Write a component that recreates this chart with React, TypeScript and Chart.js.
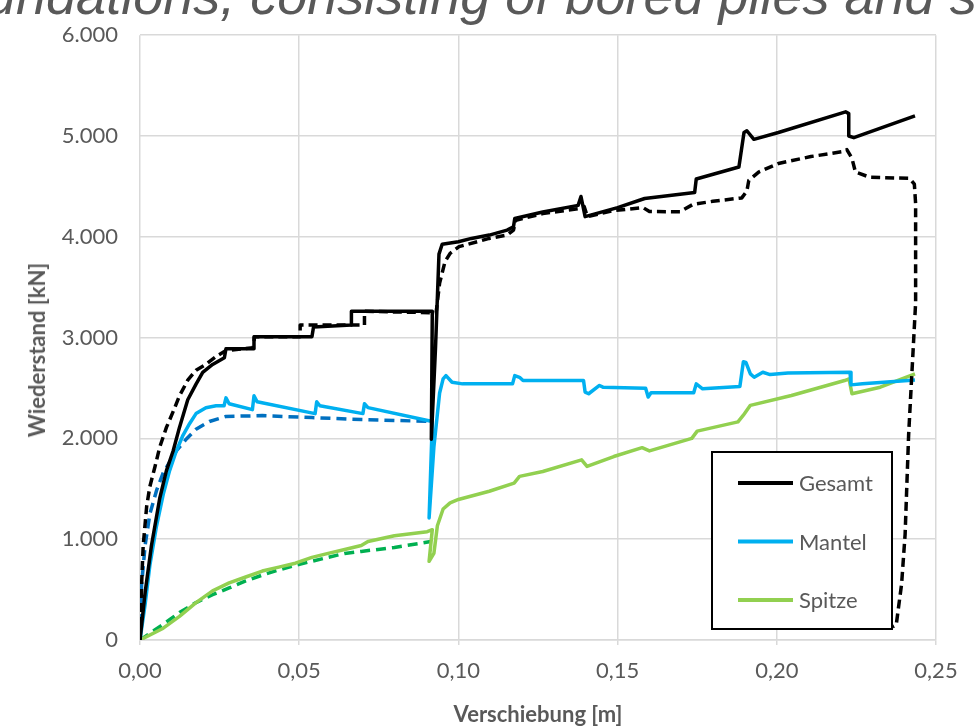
import { useEffect, useRef } from 'react';
import { Chart, registerables } from 'chart.js';

Chart.register(...registerables);

// ---- Axis / legend texts ----
const xTickLabels = ['0,00', '0,05', '0,10', '0,15', '0,20', '0,25'];
const yTickLabels = ['0', '1.000', '2.000', '3.000', '4.000', '5.000', '6.000'];
const legendLabels = ['Gesamt', 'Mantel', 'Spitze'];
const xAxisTitle = 'Verschiebung [m]';
const yAxisTitle = 'Wiederstand [kN]';
const headerText = 'undations, consisting of bored piles and s';

// ---- Series: [Verschiebung m, Widerstand kN] ----
const gesamtMessung: [number, number][] = [
  [0, 0], [0.0016, 469], [0.0036, 937], [0.0062, 1406], [0.0083, 1680], [0.0104, 1875],
  [0.0124, 2109], [0.015, 2383], [0.0176, 2539], [0.0197, 2656], [0.0228, 2734], [0.0265, 2800],
  [0.027, 2890], [0.0355, 2890], [0.0358, 3008], [0.054, 3008], [0.0545, 3105], [0.0664, 3125],
  [0.0664, 3261], [0.0918, 3261], [0.0915, 1992], [0.0928, 2890], [0.0939, 3828], [0.0949, 3926],
  [0.1, 3951], [0.1041, 3984], [0.1097, 4017], [0.1153, 4066], [0.1173, 4099], [0.1177, 4181],
  [0.1265, 4246], [0.1376, 4312], [0.1385, 4400], [0.1398, 4200], [0.15, 4290], [0.1585, 4380],
  [0.1742, 4440], [0.1747, 4574], [0.1881, 4693], [0.1897, 5035], [0.1906, 5052], [0.1928, 4967],
  [0.2005, 5035], [0.2216, 5240], [0.2226, 5222], [0.2226, 5000], [0.2242, 4983], [0.2434, 5200],
];

const gesamtModell: [number, number][] = [
  [0, 0], [0.0005, 547], [0.001, 937], [0.0021, 1328], [0.0031, 1523], [0.0047, 1719],
  [0.0062, 1914], [0.0083, 2109], [0.0104, 2265], [0.0124, 2422], [0.015, 2578], [0.0176, 2676],
  [0.0207, 2734], [0.0239, 2812], [0.027, 2871], [0.0355, 2900], [0.036, 3008], [0.0503, 3008],
  [0.0503, 3125], [0.0705, 3125], [0.0705, 3261], [0.093, 3246], [0.0941, 3541], [0.0958, 3754],
  [0.0974, 3836], [0.1002, 3902], [0.1097, 3984], [0.1153, 4017], [0.1173, 4066], [0.118, 4164],
  [0.1265, 4230], [0.1376, 4279], [0.1395, 4300], [0.1405, 4200], [0.1488, 4260], [0.158, 4290],
  [0.16, 4250], [0.1696, 4249], [0.1737, 4322], [0.1799, 4352], [0.189, 4386], [0.1906, 4454],
  [0.1912, 4559], [0.1943, 4642], [0.2005, 4727], [0.2107, 4796], [0.2211, 4847], [0.222, 4865],
  [0.2236, 4779], [0.2247, 4642], [0.2293, 4590], [0.2417, 4580], [0.2432, 4523], [0.2436, 4328],
  [0.2436, 3345], [0.2425, 2689], [0.2414, 2033], [0.2403, 1049], [0.2392, 557], [0.2375, 148],
  [0.2364, 131],
];

const mantelMessung: [number, number][] = [
  [0, 0], [0.0016, 352], [0.0031, 742], [0.0052, 1133], [0.0073, 1445], [0.0093, 1680],
  [0.0114, 1875], [0.0135, 2031], [0.0156, 2148], [0.0176, 2246], [0.0207, 2305], [0.0239, 2324],
  [0.0264, 2324], [0.027, 2402], [0.028, 2344], [0.0353, 2285], [0.0358, 2422], [0.0368, 2363],
  [0.055, 2246], [0.0555, 2363], [0.0565, 2324], [0.07, 2246], [0.0705, 2344], [0.0716, 2305],
  [0.0918, 2168], [0.0908, 1211], [0.0923, 1914], [0.0941, 2450], [0.0952, 2590], [0.0961, 2623],
  [0.098, 2557], [0.1013, 2541], [0.117, 2541], [0.1177, 2623], [0.1192, 2606], [0.1203, 2574],
  [0.1393, 2574], [0.1398, 2459], [0.1409, 2443], [0.1443, 2525], [0.1454, 2508], [0.1588, 2498],
  [0.1596, 2410], [0.1605, 2453], [0.1739, 2453], [0.1747, 2541], [0.1767, 2492], [0.1884, 2515],
  [0.1895, 2761], [0.1903, 2754], [0.1917, 2640], [0.1929, 2607], [0.1956, 2656], [0.1979, 2633],
  [0.2035, 2649], [0.223, 2656], [0.2233, 2531], [0.2269, 2541], [0.2336, 2557], [0.2434, 2580],
];

const mantelModell: [number, number][] = [
  [0, 0], [0.0005, 547], [0.0016, 937], [0.0031, 1250], [0.0052, 1484], [0.0073, 1660],
  [0.0114, 1875], [0.0145, 1992], [0.0176, 2090], [0.0218, 2168], [0.027, 2218], [0.0384, 2226],
  [0.054, 2207], [0.0695, 2187], [0.0918, 2168],
];

const spitzeMessung: [number, number][] = [
  [0, 0], [0.0073, 117], [0.0124, 234], [0.0176, 371], [0.0228, 488], [0.028, 566],
  [0.0332, 625], [0.0384, 684], [0.0436, 723], [0.0488, 762], [0.054, 820], [0.0591, 859],
  [0.0643, 898], [0.0695, 937], [0.0716, 977], [0.0799, 1035], [0.0902, 1074], [0.0918, 1094],
  [0.0908, 781], [0.0923, 859], [0.0934, 1133], [0.0952, 1300], [0.0974, 1361], [0.1, 1394],
  [0.1097, 1476], [0.1175, 1557], [0.1192, 1623], [0.1265, 1672], [0.1387, 1787], [0.1404, 1722],
  [0.1488, 1820], [0.1577, 1908], [0.16, 1876], [0.1733, 2000], [0.175, 2072], [0.1878, 2164],
  [0.1895, 2230], [0.1917, 2328], [0.2046, 2426], [0.2213, 2574], [0.2227, 2590], [0.2236, 2443],
  [0.2325, 2508], [0.2434, 2640],
];

const spitzeModell: [number, number][] = [
  [0, 0], [0.0073, 156], [0.0124, 273], [0.0176, 371], [0.0228, 449], [0.028, 516],
  [0.0332, 586], [0.0384, 644], [0.0436, 695], [0.0488, 742], [0.054, 781], [0.0591, 820],
  [0.0643, 859], [0.0695, 879], [0.0799, 918], [0.0913, 977],
];

const toPoints = (arr: [number, number][]) => arr.map(([x, y]) => ({ x, y }));

const GRAY_TEXT = '#595959';
const GRID = '#d9d9d9';
const FONT = 'Lato, "Open Sans", sans-serif';

const boxLegend = {
  id: 'boxLegend',
  afterDatasetsDraw(chart: any) {
    const { ctx, chartArea } = chart;
    const w = 180;
    const h = 177;
    const left = chartArea.right - 44 - w;
    const top = chartArea.bottom - 11 - h;
    ctx.save();
    ctx.fillStyle = '#ffffff';
    ctx.fillRect(left, top, w, h);
    ctx.strokeStyle = '#000000';
    ctx.lineWidth = 2;
    ctx.setLineDash([]);
    ctx.strokeRect(left, top, w, h);
    const idx = [0, 2, 4];
    idx.forEach((di, i) => {
      const ds = chart.data.datasets[di];
      const y = top + 31 + i * 58.5;
      ctx.strokeStyle = ds.borderColor;
      ctx.lineWidth = 4;
      ctx.beginPath();
      ctx.moveTo(left + 26, y);
      ctx.lineTo(left + 81, y);
      ctx.stroke();
      ctx.fillStyle = GRAY_TEXT;
      ctx.font = `22px ${FONT}`;
      ctx.textBaseline = 'middle';
      ctx.textAlign = 'left';
      ctx.fillText(legendLabels[i], left + 87, y + 1);
    });
    ctx.restore();
  },
};

export default function App() {
  const canvasRef = useRef<HTMLCanvasElement | null>(null);

  useEffect(() => {
    if (!canvasRef.current) return;
    const chart = new Chart(canvasRef.current, {
      type: 'line',
      data: {
        datasets: [
          {
            label: 'Gesamt',
            data: toPoints(gesamtMessung),
            borderColor: '#000000',
            borderWidth: 3.5,
          },
          {
            label: 'Gesamt Modell',
            data: toPoints(gesamtModell),
            borderColor: '#000000',
            borderWidth: 3.5,
            borderDash: [9, 5],
          },
          {
            label: 'Mantel',
            data: toPoints(mantelMessung),
            borderColor: '#00b0f0',
            borderWidth: 3.5,
          },
          {
            label: 'Mantel Modell',
            data: toPoints(mantelModell),
            borderColor: '#0070c0',
            borderWidth: 3.5,
            borderDash: [10, 6],
          },
          {
            label: 'Spitze',
            data: toPoints(spitzeMessung),
            borderColor: '#92d050',
            borderWidth: 3.5,
          },
          {
            label: 'Spitze Modell',
            data: toPoints(spitzeModell),
            borderColor: '#00b050',
            borderWidth: 3.5,
            borderDash: [10, 6],
          },
        ],
      },
      options: {
        animation: false,
        responsive: false,
        maintainAspectRatio: false,
        parsing: false as any,
        elements: {
          point: { radius: 0, hoverRadius: 0 },
          line: { tension: 0, fill: false, borderCapStyle: 'butt', borderJoinStyle: 'round' },
        },
        layout: { padding: { left: 0, top: 31, right: 38, bottom: 0 } },
        plugins: {
          legend: { display: false },
          tooltip: { enabled: false },
          title: { display: false },
        },
        scales: {
          x: {
            type: 'linear',
            min: 0,
            max: 0.25,
            border: { display: true, color: GRID, width: 1.5 },
            grid: { color: GRID, lineWidth: 1.5, drawTicks: true, tickLength: 5, tickColor: GRID },
            ticks: {
              stepSize: 0.05,
              autoSkip: false,
              maxRotation: 0,
              padding: 13,
              color: GRAY_TEXT,
              font: { family: FONT, size: 22 },
              callback: (_v: any, i: number) => xTickLabels[i],
            },
            title: {
              display: true,
              text: xAxisTitle,
              color: GRAY_TEXT,
              font: { family: FONT, size: 22, weight: 'bold', lineHeight: 1 },
              padding: { top: 0, bottom: 0 },
            },
            afterFit: (scale: any) => {
              scale.height = 86;
            },
          },
          y: {
            type: 'linear',
            min: 0,
            max: 6000,
            border: { display: false },
            grid: { color: GRID, lineWidth: 1.5, drawTicks: false },
            ticks: {
              stepSize: 1000,
              autoSkip: false,
              padding: 22,
              color: GRAY_TEXT,
              font: { family: FONT, size: 22 },
              callback: (_v: any, i: number) => yTickLabels[i],
            },
            afterFit: (scale: any) => {
              scale.width = 140;
            },
          },
        },
      },
      plugins: [boxLegend],
    });
    return () => chart.destroy();
  }, []);

  return (
    <div
      style={{
        position: 'fixed',
        left: 0,
        top: 0,
        width: 974,
        height: 726,
        overflow: 'hidden',
        background: '#ffffff',
      }}
    >
      <canvas ref={canvasRef} width={974} height={726} style={{ position: 'absolute', left: 0, top: 0, width: 974, height: 726 }} />
      <div
        style={{
          position: 'absolute',
          left: -14,
          top: -32,
          fontFamily: '"Liberation Sans", Arial, sans-serif',
          fontStyle: 'italic',
          fontSize: 54,
          lineHeight: '54px',
          color: GRAY_TEXT,
          whiteSpace: 'nowrap',
        }}
      >
        {headerText}
      </div>
      <div
        style={{
          position: 'absolute',
          left: 37,
          top: 350,
          transform: 'translate(-50%, -50%) rotate(-90deg)',
          fontFamily: FONT,
          fontWeight: 'bold',
          fontSize: 22,
          lineHeight: '26px',
          color: GRAY_TEXT,
          whiteSpace: 'nowrap',
        }}
      >
        {yAxisTitle}
      </div>
    </div>
  );
}
